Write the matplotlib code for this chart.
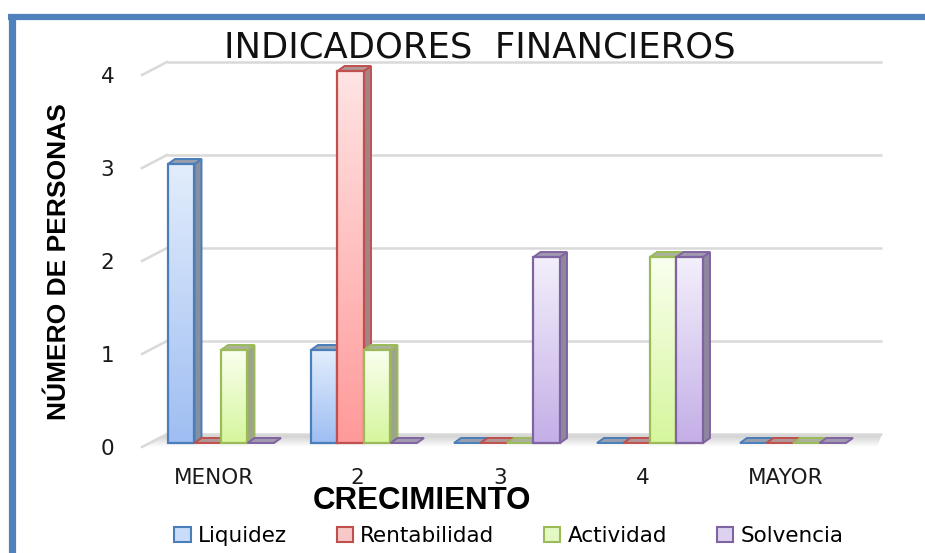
import numpy as np
import matplotlib
matplotlib.use('Agg')
import matplotlib.pyplot as plt
from matplotlib.patches import Polygon, Rectangle, Patch
from matplotlib.lines import Line2D
from matplotlib.colors import LinearSegmentedColormap

# data
categories = ['MENOR', '2', '3', '4', 'MAYOR']
series = ['Liquidez', 'Rentabilidad', 'Actividad', 'Solvencia']
liquidez = [3, 1, 0, 0, 0]
rentabilidad = [0, 4, 0, 0, 0]
actividad = [1, 1, 0, 2, 0]
solvencia = [0, 0, 2, 2, 0]
y_ticks = [0, 1, 2, 3, 4]

values = [liquidez, rentabilidad, actividad, solvencia]

# styles: edge, gradient bottom, gradient top, side, top face, legend fill
styles = [
    ('#4a7ebb', '#9fbef2', '#e2edfc', '#858fa0', '#979fae', '#c9dcf8'),
    ('#c0504d', '#ff9a9a', '#ffe3e3', '#a28484', '#b09696', '#f8c8c8'),
    ('#9bbb59', '#d6f69d', '#f9ffee', '#9ea48c', '#acb19c', '#e4f8c4'),
    ('#8064a2', '#c4afe7', '#f3effb', '#8f879e', '#a199ae', '#ddd2f0'),
]

W, H = 925, 553
fig = plt.figure(figsize=(W / 100, H / 100), dpi=100)

# plot area in pixels
left_px, right_px = 142, 882
bottom_px, top_px = 447, 75
ax = fig.add_axes([left_px / W, 1 - bottom_px / H,
                   (right_px - left_px) / W, (bottom_px - top_px) / H])

group_px = 143.0
unit_px = (bottom_px - top_px) / 4.0
xl = -0.5524
xr = xl + (right_px - left_px) / group_px
ax.set_xlim(xl, xr)
ax.set_ylim(0, 4)

bar_w = 26.5 / group_px
dx, dy = 7 / group_px, 5 / unit_px          # bar depth
wx, wy = 25 / group_px, 13 / unit_px        # wall depth
y0 = 4 / unit_px                            # bars sit a bit behind front edge

# floor with soft shading
floor = Polygon([(xl, 0), (xl + wx, wy), (xr, wy), (xr - wx * 0.2, 0)],
                closed=True, fc='none', ec='none')
ax.add_patch(floor)
shade = LinearSegmentedColormap.from_list('shade', ['#ffffff', '#cccccc'])
im = ax.imshow(np.linspace(0, 1, 32).reshape(-1, 1), extent=[xl, xr, 0, wy],
               origin='lower', cmap=shade, aspect='auto', zorder=0.5,
               interpolation='bilinear')
im.set_clip_path(floor)

# gridlines: back wall + left diagonal stub
for v in y_ticks:
    ax.plot([xl + wx, xr], [v + wy, v + wy], color='#d9d9d9', lw=1.8,
            zorder=1, clip_on=False, solid_capstyle='butt')
    ax.plot([xl, xl + wx], [v, v + wy], color='#d9d9d9', lw=1.8,
            zorder=1, clip_on=False)

grad = np.linspace(0, 1, 64).reshape(-1, 1)
for i in range(len(categories)):
    start = i - 2 * bar_w
    for k in range(len(series)):
        edge, c_bot, c_top, c_side, c_topface, _ = styles[k]
        h = values[k][i]
        x0 = start + k * bar_w
        z = 2 + k
        if h > 0:
            cmap = LinearSegmentedColormap.from_list('g%d' % k, [c_bot, c_top])
            ax.imshow(grad, extent=[x0, x0 + bar_w, y0, y0 + h], origin='lower',
                      cmap=cmap, aspect='auto', zorder=z, clip_on=False,
                      interpolation='bilinear')
            ax.add_patch(Rectangle((x0, y0), bar_w, h, fill=False, ec=edge,
                                   lw=1.6, zorder=z + 0.1, clip_on=False))
            ax.add_patch(Polygon([(x0 + bar_w, y0), (x0 + bar_w + dx, y0 + dy),
                                  (x0 + bar_w + dx, y0 + h + dy), (x0 + bar_w, y0 + h)],
                                 closed=True, fc=c_side, ec=edge, lw=1.4,
                                 zorder=z + 0.05, clip_on=False))
        ax.add_patch(Polygon([(x0, y0 + h), (x0 + dx, y0 + h + dy),
                              (x0 + bar_w + dx, y0 + h + dy), (x0 + bar_w, y0 + h)],
                             closed=True, fc=c_topface, ec=edge, lw=1.4,
                             zorder=z + 0.05, clip_on=False))

for s in ax.spines.values():
    s.set_visible(False)
ax.set_xticks(np.arange(len(categories)) - 0.05)
ax.set_xticklabels(categories)
ax.set_yticks(y_ticks)
ax.set_yticklabels([str(v) for v in y_ticks])
ax.tick_params(axis='x', length=0, pad=15, labelsize=15.5, labelcolor='#1a1a1a')
ax.tick_params(axis='y', length=0, pad=20, labelsize=15.5, labelcolor='#1a1a1a')
ax.patch.set_alpha(0)

# texts
fig.text(480 / W, 1 - 48 / H, 'INDICADORES  FINANCIEROS', ha='center', va='center',
         fontsize=25.5, color='#111111')
fig.text(59 / W, 1 - 262 / H, 'NÚMERO DE PERSONAS', rotation=90, ha='center',
         va='center', fontsize=19, fontweight='bold', family=['Liberation Sans'])
fig.text(422 / W, 1 - 501 / H, 'CRECIMIENTO', ha='center', va='center',
         fontsize=22.5, fontweight='bold', family=['Liberation Sans'])

handles = [Patch(fc=st[5], ec=st[0], lw=1.5) for st in styles]
fig.legend(handles, series, loc='center', bbox_to_anchor=(509 / W, 1 - 536 / H),
           ncol=4, frameon=False, fontsize=15.5, handlelength=0.75, handleheight=0.75,
           handletextpad=0.35, columnspacing=2.3, borderpad=0)

# blue frame (left and top edges)
fig.add_artist(Line2D([11.5 / W, 11.5 / W], [0, 1 - 14 / H], color='#4f81bd',
                      lw=5.2, transform=fig.transFigure, solid_capstyle='butt'))
fig.add_artist(Line2D([8 / W, 1], [1 - 17 / H, 1 - 17 / H], color='#4f81bd',
                      lw=4.5, transform=fig.transFigure, solid_capstyle='butt'))

fig.savefig('out.png', dpi=100)
